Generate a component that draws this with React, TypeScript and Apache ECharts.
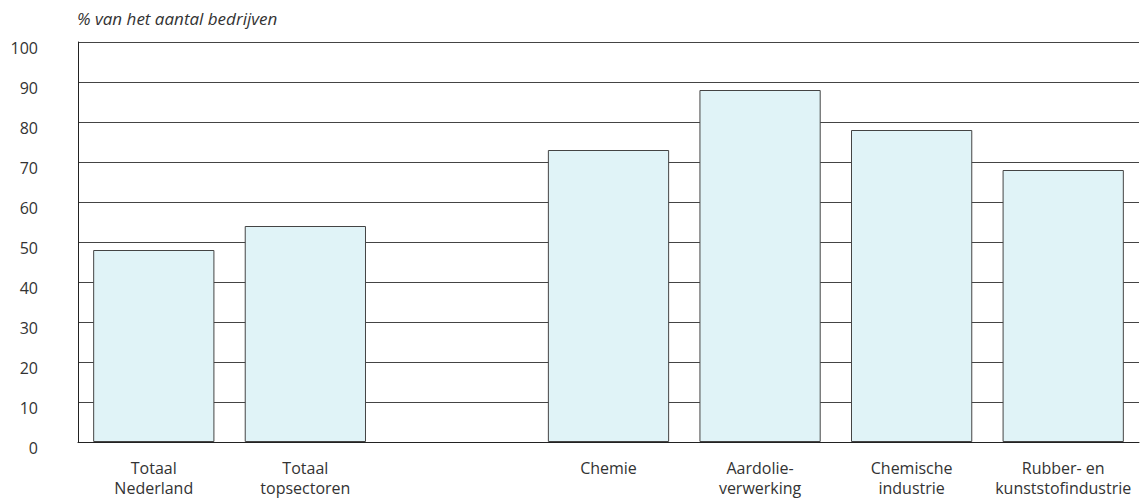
import React, { useEffect, useRef } from "react";
import * as echarts from "echarts";

const categories = [
  "Totaal\nNederland",
  "Totaal\ntopsectoren",
  "",
  "Chemie",
  "Aardolie-\nverwerking",
  "Chemische\nindustrie",
  "Rubber- en\nkunststofindustrie",
];
const values: (number | null)[] = [48, 54, null, 73, 88, 78, 68];
const yTicks = { min: 0, max: 100, interval: 10 };
const yTitle = "% van het aantal bedrijven";

export default function App() {
  const ref = useRef<HTMLDivElement>(null);
  useEffect(() => {
    document.body.style.margin = "0";
    const chart = echarts.init(ref.current!, undefined, { renderer: "svg" });
    const font = "'Open Sans', 'Noto Sans', sans-serif";
    chart.setOption({
      animation: false,
      textStyle: { fontFamily: font },
      graphic: [
        {
          type: "text",
          left: 77,
          top: 10,
          style: {
            text: yTitle,
            font: `italic 17px ${font}`,
            fill: "#333",
          },
        },
      ],
      grid: {
        left: 78,
        right: 7,
        top: 42,
        bottom: 56,
        containLabel: false,
        outerBoundsMode: "none",
      },
      xAxis: {
        type: "category",
        data: categories,
        axisLine: { lineStyle: { color: "#222", width: 1 } },
        axisTick: { show: false },
        axisLabel: {
          interval: 0,
          color: "#333",
          fontSize: 16,
          lineHeight: 20,
          margin: 16,
          fontFamily: font,
        },
      },
      yAxis: {
        type: "value",
        min: yTicks.min,
        max: yTicks.max,
        interval: yTicks.interval,
        axisLine: { show: true, lineStyle: { color: "#222", width: 1 } },
        axisTick: { show: false },
        axisLabel: {
          color: "#333",
          fontSize: 16,
          margin: 40,
          fontFamily: font,
          verticalAlign: "top",
          lineHeight: 12,
        },
        splitLine: { lineStyle: { color: "#444", width: 1 } },
      },
      series: [
        {
          type: "bar",
          data: values,
          barCategoryGap: "20%",
          itemStyle: {
            color: "#e0f3f7",
            borderColor: "#444",
            borderWidth: 1,
          },
        },
      ],
    });
    return () => chart.dispose();
  }, []);
  return <div ref={ref} style={{ width: 1146, height: 498 }} />;
}
